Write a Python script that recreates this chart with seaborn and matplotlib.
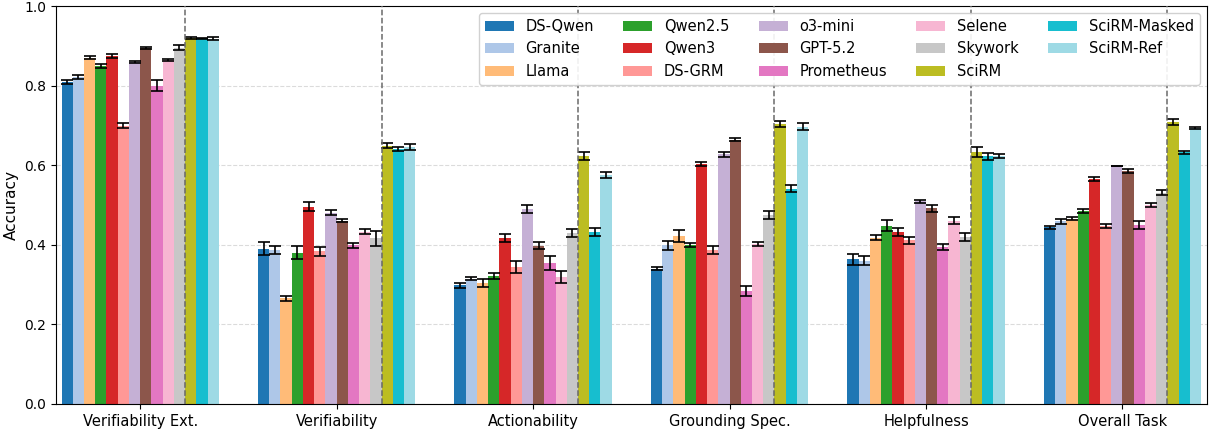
import numpy as np
import pandas as pd
import matplotlib
matplotlib.use("Agg")
import matplotlib.pyplot as plt
import seaborn as sns

# ---- data ----
metrics = ["Verifiability Ext.", "Verifiability", "Actionability",
           "Grounding Spec.", "Helpfulness", "Overall Task"]
models = ["DS-Qwen", "Granite", "Llama", "Qwen2.5", "Qwen3", "DS-GRM",
          "o3-mini", "GPT-5.2", "Prometheus", "Selene", "Skywork",
          "SciRM", "SciRM-Masked", "SciRM-Ref"]
colors = ["#1f77b4", "#aec7e8", "#ffbb78", "#2ca02c", "#d62728", "#ff9896",
          "#c5b0d5", "#8c564b", "#e377c2", "#f7b6d2", "#c7c7c7",
          "#bcbd22", "#17becf", "#9edae5"]

# one list per metric, values in model order
ver_ext = [0.809, 0.822, 0.870, 0.850, 0.874, 0.699, 0.860, 0.894, 0.800, 0.865, 0.895, 0.919, 0.919, 0.918]
ver = [0.390, 0.387, 0.265, 0.380, 0.496, 0.384, 0.481, 0.461, 0.399, 0.433, 0.416, 0.649, 0.640, 0.646]
act = [0.298, 0.315, 0.303, 0.322, 0.416, 0.343, 0.491, 0.398, 0.354, 0.320, 0.429, 0.622, 0.431, 0.576]
ground = [0.340, 0.399, 0.423, 0.400, 0.603, 0.388, 0.627, 0.664, 0.283, 0.401, 0.475, 0.703, 0.541, 0.697]
helpful = [0.363, 0.360, 0.418, 0.448, 0.431, 0.411, 0.509, 0.492, 0.395, 0.461, 0.419, 0.633, 0.622, 0.623]
overall = [0.444, 0.459, 0.466, 0.485, 0.566, 0.447, 0.598, 0.586, 0.449, 0.499, 0.531, 0.708, 0.632, 0.694]

ver_ext_err = [0.004, 0.005, 0.004, 0.005, 0.005, 0.006, 0.002, 0.002, 0.013, 0.003, 0.006, 0.003, 0.001, 0.004]
ver_err = [0.016, 0.011, 0.006, 0.016, 0.012, 0.011, 0.007, 0.005, 0.006, 0.006, 0.019, 0.007, 0.005, 0.007]
act_err = [0.006, 0.004, 0.010, 0.008, 0.010, 0.015, 0.010, 0.008, 0.017, 0.015, 0.010, 0.010, 0.010, 0.007]
ground_err = [0.004, 0.011, 0.015, 0.005, 0.005, 0.010, 0.007, 0.004, 0.013, 0.005, 0.011, 0.007, 0.009, 0.008]
helpful_err = [0.015, 0.012, 0.007, 0.014, 0.010, 0.008, 0.004, 0.009, 0.008, 0.010, 0.010, 0.012, 0.008, 0.004]
overall_err = [0.004, 0.006, 0.004, 0.005, 0.005, 0.005, 0.001, 0.005, 0.010, 0.005, 0.006, 0.007, 0.004, 0.003]

# ---- long form table for seaborn ----
vals = [ver_ext, ver, act, ground, helpful, overall]
errs = [ver_ext_err, ver_err, act_err, ground_err, helpful_err, overall_err]
rows = []
for m, v, e in zip(metrics, vals, errs):
    for name, acc, se in zip(models, v, e):
        rows.append({"Metric": m, "Model": name, "Accuracy": acc, "err": se})
df = pd.DataFrame(rows)

# plain matplotlib look (black spines / text)
plt.rcParams["font.family"] = ["DejaVu Sans"]

fig, ax = plt.subplots(figsize=(12.1, 4.32), dpi=100)
sns.barplot(data=df, x="Metric", y="Accuracy", hue="Model", order=metrics,
            hue_order=models, palette=colors, saturation=1, linewidth=0,
            errorbar=None, width=0.8, ax=ax)

# error bars on top of each bar
for cont, name in zip(ax.containers, models):
    sub = df[df["Model"] == name].set_index("Metric").loc[metrics]
    xs = [b.get_x() + b.get_width() / 2 for b in cont]
    ax.errorbar(xs, sub["Accuracy"], yerr=sub["err"], fmt="none",
                ecolor="black", elinewidth=1.2, capsize=4, capthick=1.2, zorder=4)

# dashed separator in front of the SciRM bars
sci = models.index("SciRM")
for b in ax.containers[sci]:
    ax.axvline(b.get_x(), color="dimgray", linestyle="--", linewidth=1.1, zorder=5)

ax.set_ylim(0, 1.0)
ax.set_xlim(-0.43, len(metrics) - 1 + 0.43)
ax.set_xlabel("")
ax.set_ylabel("Accuracy", fontsize=11)
ax.tick_params(axis="x", labelsize=10.5)
ax.yaxis.grid(True, linestyle="--", color="lightgray", alpha=0.8)
ax.set_axisbelow(True)

ax.legend(loc="upper right", ncol=5, fontsize=10.5, framealpha=0.9)

plt.subplots_adjust(left=0.046, right=0.9975, top=0.986, bottom=0.065)
plt.savefig("out.png", dpi=100)
